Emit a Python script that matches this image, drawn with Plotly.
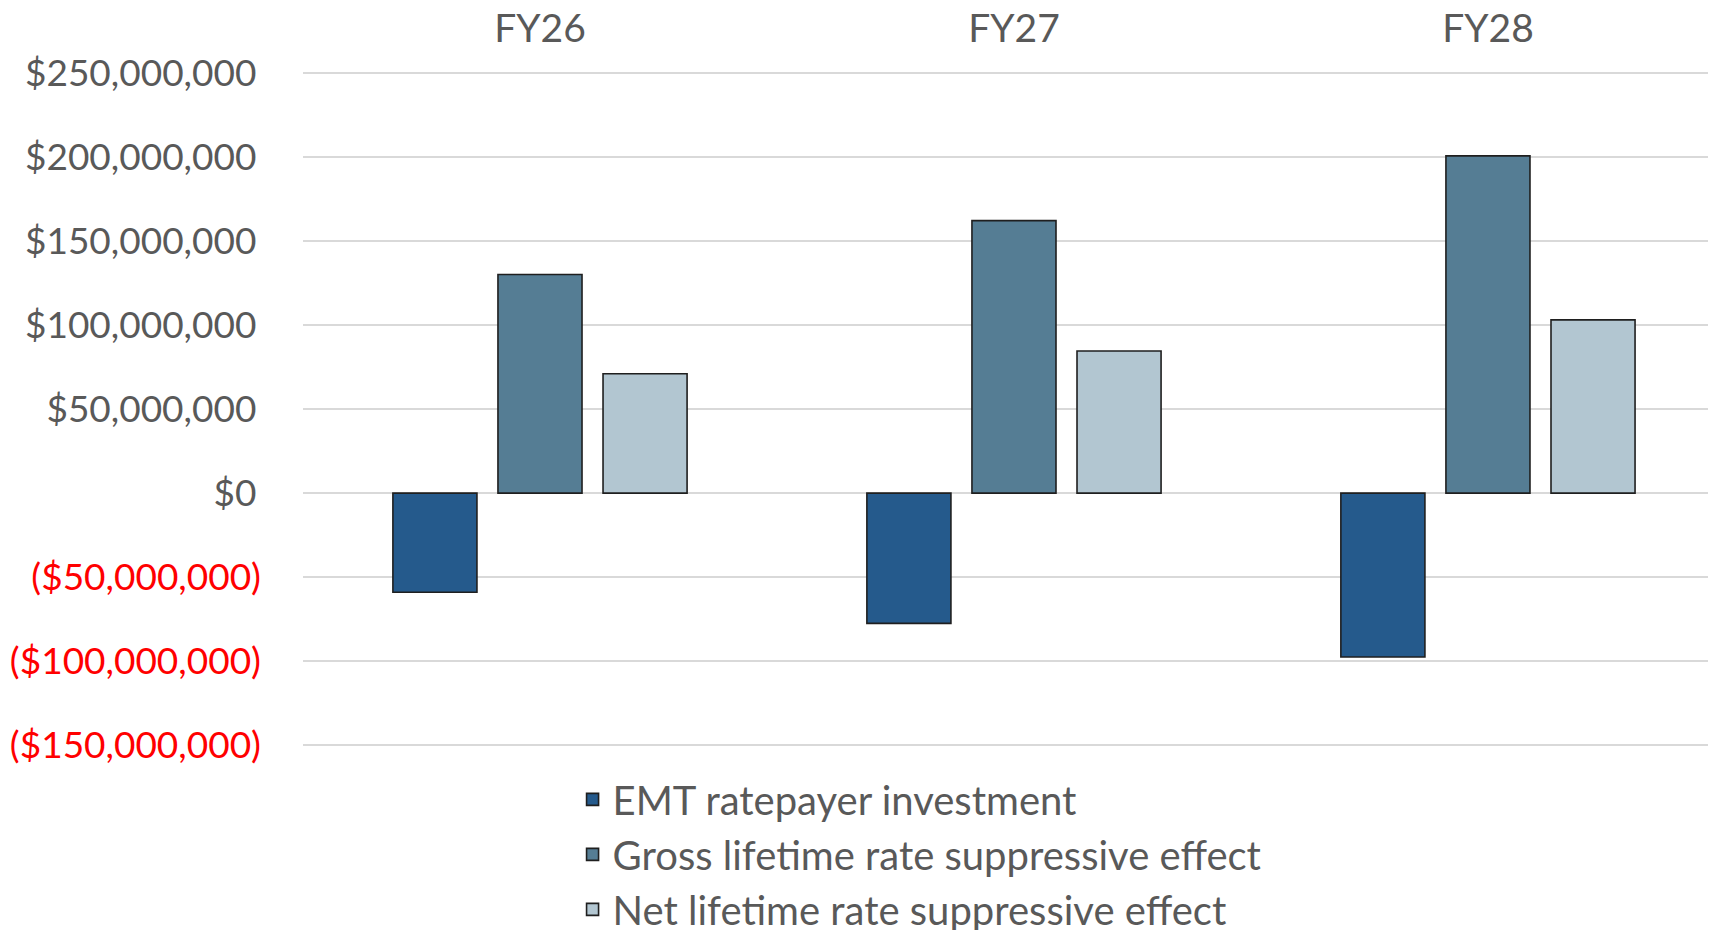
import plotly.graph_objects as go

categories = ["FY26", "FY27", "FY28"]
emt_investment = [-59_000_000, -77_500_000, -97_500_000]
gross_effect = [130_000_000, 162_000_000, 200_500_000]
net_effect = [71_000_000, 84_500_000, 103_000_000]

series_names = [
    "EMT ratepayer investment",
    "Gross lifetime rate suppressive effect",
    "Net lifetime rate suppressive effect",
]
series_colors = ["#255A8C", "#557D94", "#B2C6D1"]

tick_values = [250e6, 200e6, 150e6, 100e6, 50e6, 0, -50e6, -100e6, -150e6]
tick_labels = [
    "$250,000,000", "$200,000,000", "$150,000,000", "$100,000,000",
    "$50,000,000", "$0", "($50,000,000)", "($100,000,000)", "($150,000,000)",
]

# Accounting-style alignment: positives padded by a thin space like Excel's "_)"
tick_text = [
    f'<span style="color:#FF0000">{t}</span>' if v < 0 else f'{t}\u2009'
    for t, v in zip(tick_labels, tick_values)
]

fig = go.Figure()
for name, vals, col in zip(series_names, [emt_investment, gross_effect, net_effect], series_colors):
    fig.add_trace(go.Bar(
        x=categories, y=vals, name=name,
        marker=dict(color=col, line=dict(color="#1F1F1F", width=1.6)),
    ))

font_family = "Lato, 'Open Sans', sans-serif"

fig.update_layout(
    width=1716, height=930,
    margin=dict(l=295, r=0, t=63, b=191, autoexpand=False),
    paper_bgcolor="white", plot_bgcolor="white",
    barmode="group", bargap=0.335, bargroupgap=0.2,
    font=dict(family=font_family, size=37, color="#595959"),
    showlegend=True,
    legend=dict(
        orientation="v", xref="container", yref="container",
        x=0.329, xanchor="left", y=0.184, yanchor="top",
        font=dict(size=40, color="#595959"), bgcolor="rgba(0,0,0,0)",
        tracegroupgap=0,
    ),
    xaxis=dict(
        side="top", range=[-0.5, 2.498], showgrid=False, showline=False,
        ticks="", tickfont=dict(size=39, color="#595959"), fixedrange=True,
        automargin=False, ticklabelstandoff=20,
    ),
    yaxis=dict(
        range=[-151e6, 251e6], tickvals=tick_values, ticktext=tick_text,
        showgrid=True, gridcolor="#D9D9D9", gridwidth=1.5,
        zeroline=True, zerolinecolor="#D9D9D9", zerolinewidth=1.5,
        showline=False, ticks="", ticklabelstandoff=41, automargin=False,
        tickfont=dict(size=37, color="#595959"),
    ),
)

fig.write_html("out.html")
